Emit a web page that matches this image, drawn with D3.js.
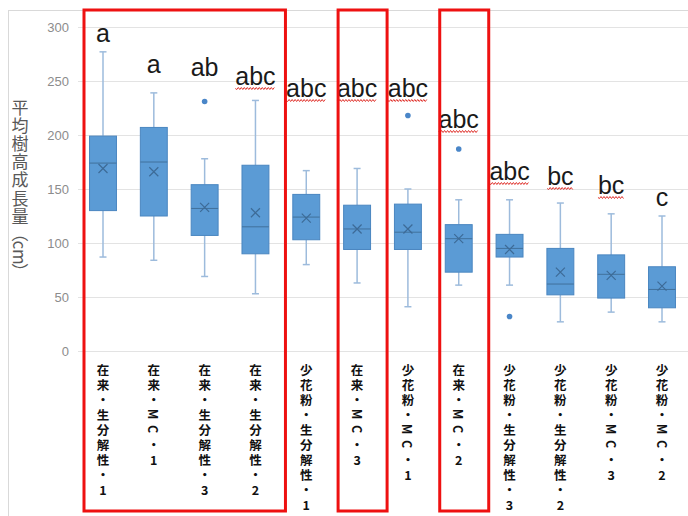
<!DOCTYPE html>
<html><head><meta charset="utf-8">
<script src="https://cdn.jsdelivr.net/npm/d3@7"></script>
<style>body{margin:0;background:#fff}svg{display:block}</style>
</head><body>
<script>
const categories = ["在来・生分解性・1","在来・MC・1","在来・生分解性・3","在来・生分解性・2","少花粉・生分解性・1","在来・MC・3","少花粉・MC・1","在来・MC・2","少花粉・生分解性・3","少花粉・生分解性・2","少花粉・MC・3","少花粉・MC・2"];
const whiskerHigh = [277, 239, 178, 232, 167, 169, 150, 140, 140, 137, 127, 125];
const q3 = [199, 207, 154, 172, 145, 135, 136, 117, 108, 95, 89, 78];
const medians = [174, 175, 132, 115, 124, 113, 110, 104, 95, 62, 71, 57];
const means = [169, 166, 133, 128, 123, 113, 113, 104, 94, 73, 70, 60];
const q1 = [130, 125, 107, 90, 103, 94, 94, 73, 87, 52, 49, 40];
const whiskerLow = [87, 84, 69, 53, 80, 63, 41, 61, 61, 27, 36, 27];
const outliers = [[], [], [231], [], [], [], [218], [187], [32], [], [], []];
const letters = ["a","a","ab","abc","abc","abc","abc","abc","abc","bc","bc","c"];
const letterY = [42, 73, 76, 85, 97, 97, 97, 128, 180, 185, 194, 206];
const underlined = [false,false,false,true,true,true,true,true,true,true,true,false];
const yTicks = [0, 50, 100, 150, 200, 250, 300];
const highlightGroups = [[0,3],[5,5],[7,7]];
const yTitle = "平均樹高成長量（cm）";

const W = 688, H = 516;
const svg = d3.select("body").append("svg").attr("width", W).attr("height", H);

const y = d3.scaleLinear().domain([0, 300]).range([351, 27]);
const x = d3.scalePoint().domain(categories).range([103, 662]);
const step = x.step();
const bw = step * 0.53;

// chart frame
svg.append("rect").attr("x", 8.5).attr("y", 10.5).attr("width", 700).attr("height", 520)
  .attr("fill", "none").attr("stroke", "#d9d9d9");

// gridlines + tick labels
const yAxis = d3.axisLeft(y).tickValues(yTicks).tickSize(-(W - 78)).tickPadding(10);
const ga = svg.append("g").attr("transform", "translate(78,0)").call(yAxis);
ga.select(".domain").remove();
ga.selectAll(".tick line").attr("stroke", "#e3e3e3").attr("stroke-width", 1.2);
ga.selectAll(".tick text").attr("fill", "#8c8c8c").attr("font-size", 13)
  .attr("font-family", "'Liberation Sans', Arial, sans-serif").attr("x", -9);

// y title: stacked characters; latin run "cm" and brackets turned sideways
const titleParts = yTitle.match(/[A-Za-z]+|./g);
let ty = 106;
titleParts.forEach(p => {
  const sideways = /[A-Za-z（）]/.test(p);
  const h = p.length > 1 ? 20 : 18.2;
  const cy = ty + (p.length > 1 ? 1 : 0);
  const t = svg.append("text").attr("x", 20).attr("y", cy)
    .attr("text-anchor", "middle").attr("dominant-baseline", "central")
    .attr("font-family", "'Noto Sans CJK JP', sans-serif").attr("font-size", 17)
    .attr("fill", "#595959").text(p);
  if (sideways) t.attr("transform", `rotate(90,20,${cy})`);
  ty += h;
});

// boxes
const boxColor = "#5b9bd5", boxStroke = "#4a86c0", whiskerColor = "#9dbbdc";
const g = svg.append("g");
categories.forEach((c, i) => {
  const cx = x(c);
  const gg = g.append("g");
  gg.append("line").attr("x1", cx).attr("x2", cx).attr("y1", y(whiskerHigh[i])).attr("y2", y(q3[i]))
    .attr("stroke", whiskerColor).attr("stroke-width", 1.5);
  gg.append("line").attr("x1", cx).attr("x2", cx).attr("y1", y(q1[i])).attr("y2", y(whiskerLow[i]))
    .attr("stroke", whiskerColor).attr("stroke-width", 1.5);
  [whiskerHigh[i], whiskerLow[i]].forEach(v => {
    gg.append("line").attr("x1", cx - 3.5).attr("x2", cx + 3.5).attr("y1", y(v)).attr("y2", y(v))
      .attr("stroke", whiskerColor).attr("stroke-width", 1.5);
  });
  gg.append("rect").attr("x", cx - bw / 2).attr("width", bw)
    .attr("y", y(q3[i])).attr("height", y(q1[i]) - y(q3[i]))
    .attr("fill", boxColor).attr("stroke", boxStroke).attr("stroke-width", 1);
  gg.append("line").attr("x1", cx - bw / 2).attr("x2", cx + bw / 2).attr("y1", y(medians[i])).attr("y2", y(medians[i]))
    .attr("stroke", "#41719c").attr("stroke-width", 1);
  const my = y(means[i]), s = 4.5;
  gg.append("path").attr("d", `M${cx - s},${my - s}L${cx + s},${my + s}M${cx - s},${my + s}L${cx + s},${my - s}`)
    .attr("stroke", "#3d6b97").attr("stroke-width", 1.2).attr("fill", "none");
  outliers[i].forEach(v => {
    gg.append("circle").attr("cx", cx).attr("cy", y(v)).attr("r", 2.8).attr("fill", "#4a86c8");
  });
});

// significance letters
categories.forEach((c, i) => {
  const t = svg.append("text").attr("x", x(c)).attr("y", letterY[i])
    .attr("text-anchor", "middle").attr("font-family", "'Liberation Sans', Arial, sans-serif")
    .attr("font-size", 25).attr("fill", "#1a1a1a").text(letters[i]);
  if (underlined[i]) {
    const w = t.node().getComputedTextLength();
    const x0 = x(c) - w / 2, x1 = x(c) + w / 2, yy = letterY[i] + 3.5;
    let d = `M${x0},${yy}`;
    let k = 0;
    for (let xx = x0 + 1.5; xx <= x1; xx += 1.5, k++) d += `L${xx},${yy + (k % 2 ? -1 : 1)}`;
    svg.append("path").attr("d", d).attr("stroke", "#e0302a").attr("stroke-width", 1).attr("fill", "none");
  }
});

// category labels: one character per row, latin letters turned sideways
categories.forEach((c, i) => {
  const cx = x(c);
  Array.from(c).forEach((ch, j) => {
    const cy = 369 + j * 15;
    const t = svg.append("text").attr("x", cx).attr("y", cy)
      .attr("text-anchor", "middle").attr("dominant-baseline", "central")
      .attr("font-family", "'Noto Sans CJK JP', sans-serif").attr("font-size", 12.5)
      .attr("font-weight", "bold").attr("fill", "#111").text(ch);
    if (/[A-Za-z]/.test(ch)) t.attr("transform", `rotate(90,${cx},${cy})`);
  });
});

// red highlight rectangles
highlightGroups.forEach(([a, b]) => {
  const xl = x(categories[a]) - 19, xr = x(categories[b]) + 30;
  svg.append("rect").attr("x", xl).attr("y", 10).attr("width", xr - xl).attr("height", 501)
    .attr("fill", "none").attr("stroke", "#ee1111").attr("stroke-width", 3);
});
</script>
</body></html>
